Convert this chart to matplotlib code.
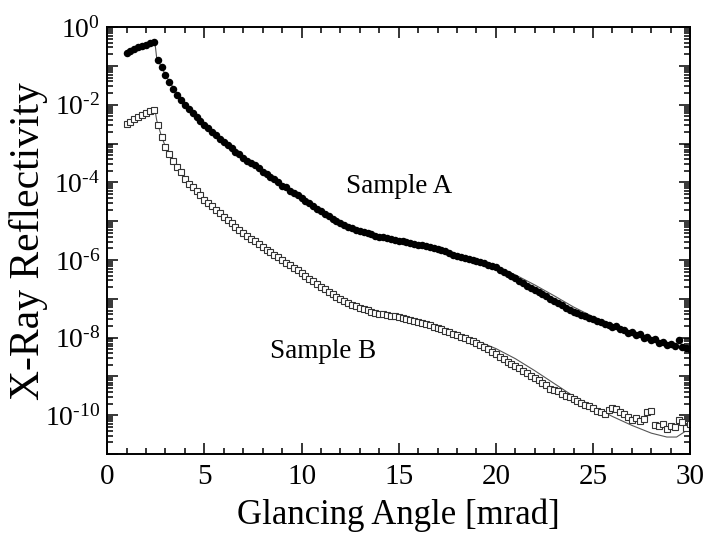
import matplotlib
matplotlib.use("Agg")
import matplotlib.pyplot as plt
import numpy as np
from matplotlib.ticker import LogLocator, MultipleLocator, FuncFormatter, NullFormatter

plt.rcParams['font.family'] = ['Liberation Serif', 'DejaVu Serif']
plt.rcParams['mathtext.fontset'] = 'custom'
plt.rcParams['mathtext.rm'] = 'Liberation Serif'
plt.rcParams['mathtext.it'] = 'Liberation Serif:italic'

# scan grid for both samples [mrad]
angle = np.round(np.arange(1.0, 30.01, 0.2), 1)

# log10 reflectivity
logR_a = [
    -0.67, -0.62, -0.56, -0.51, -0.49, -0.46, -0.41, -0.38, -0.85, -1.03,
    -1.23, -1.41, -1.59, -1.74, -1.87, -2.00, -2.10, -2.21, -2.31, -2.41,
    -2.51, -2.59, -2.69, -2.77, -2.87, -2.95, -3.03, -3.10, -3.21, -3.28,
    -3.36, -3.44, -3.51, -3.56, -3.64, -3.72, -3.79, -3.87, -3.92, -4.00,
    -4.08, -4.13, -4.21, -4.28, -4.33, -4.41, -4.49, -4.54, -4.62, -4.69,
    -4.74, -4.82, -4.87, -4.95, -5.00, -5.05, -5.10, -5.15, -5.18, -5.23,
    -5.26, -5.28, -5.31, -5.33, -5.38, -5.41, -5.41, -5.44, -5.46, -5.49,
    -5.51, -5.51, -5.54, -5.56, -5.59, -5.62, -5.62, -5.64, -5.67, -5.69,
    -5.72, -5.74, -5.77, -5.82, -5.87, -5.90, -5.92, -5.95, -5.97, -6.00,
    -6.03, -6.05, -6.08, -6.13, -6.15, -6.18, -6.26, -6.31, -6.36, -6.41,
    -6.46, -6.54, -6.59, -6.67, -6.72, -6.77, -6.82, -6.87, -6.92, -7.00,
    -7.05, -7.10, -7.15, -7.23, -7.28, -7.33, -7.36, -7.41, -7.44, -7.49,
    -7.51, -7.56, -7.59, -7.64, -7.67, -7.72, -7.69, -7.77, -7.79, -7.87,
    -7.85, -7.92, -7.90, -8.00, -7.97, -8.05, -8.03, -8.13, -8.10, -8.18,
    -8.15, -8.21, -8.05, -8.23, -8.26, -8.28,
]
logR_b = [
    -2.49, -2.44, -2.36, -2.31, -2.26, -2.21, -2.15, -2.13, -2.51, -2.82,
    -3.08, -3.26, -3.44, -3.59, -3.74, -3.90, -4.03, -4.13, -4.23, -4.33,
    -4.44, -4.54, -4.62, -4.72, -4.79, -4.90, -4.97, -5.05, -5.15, -5.23,
    -5.31, -5.38, -5.46, -5.51, -5.59, -5.67, -5.74, -5.79, -5.87, -5.92,
    -6.00, -6.08, -6.13, -6.21, -6.26, -6.33, -6.41, -6.49, -6.54, -6.62,
    -6.69, -6.74, -6.82, -6.87, -6.95, -7.00, -7.05, -7.10, -7.15, -7.18,
    -7.23, -7.26, -7.28, -7.33, -7.36, -7.38, -7.38, -7.41, -7.44, -7.44,
    -7.46, -7.49, -7.51, -7.54, -7.56, -7.59, -7.62, -7.64, -7.67, -7.72,
    -7.74, -7.77, -7.82, -7.85, -7.90, -7.92, -7.97, -8.00, -8.05, -8.08,
    -8.13, -8.18, -8.23, -8.28, -8.36, -8.41, -8.49, -8.54, -8.62, -8.67,
    -8.74, -8.79, -8.87, -8.92, -9.00, -9.05, -9.10, -9.18, -9.23, -9.31,
    -9.36, -9.38, -9.44, -9.49, -9.54, -9.59, -9.64, -9.69, -9.74, -9.77,
    -9.82, -9.90, -9.92, -9.97, -9.87, -9.82, -9.85, -9.92, -9.97, -10.05,
    -10.13, -10.08, -10.15, -10.10, -9.92, -9.90, -10.26, -10.28, -10.23, -10.36,
    -10.28, -10.31, -10.13, -10.18, -10.33, -10.23,
]

# model curves (thin lines)
fit_angle_a = [1.0, 1.5, 2.0, 2.45, 2.55, 2.8, 3.0, 3.5, 4, 5, 6, 7, 8, 9, 10, 11, 12,
               13, 14, 15, 16, 17, 18, 19, 20, 21, 22, 23, 24, 25, 26, 27, 28, 29, 30]
fit_log_a = [-0.67, -0.55, -0.46, -0.36, -0.80, -1.03, -1.23, -1.64, -2.00, -2.51,
             -2.95, -3.36, -3.72, -4.08, -4.41, -4.74, -5.05, -5.26, -5.44, -5.56,
             -5.67, -5.77, -5.87, -6.03, -6.18, -6.38, -6.64, -6.92, -7.21, -7.46,
             -7.67, -7.85, -8.03, -8.18, -8.36]
fit_angle_b = [1.0, 1.5, 2.0, 2.45, 2.55, 2.8, 3.0, 3.5, 4, 5, 6, 7, 8, 9, 10, 11, 12,
               13, 14, 15, 16, 17, 18, 19, 20, 21, 22, 23, 24, 25, 26, 27, 28, 28.8,
               29.3, 30]
fit_log_b = [-2.49, -2.34, -2.21, -2.10, -2.40, -2.82, -3.08, -3.51, -3.90, -4.44,
             -4.90, -5.31, -5.67, -6.00, -6.33, -6.69, -7.00, -7.23, -7.38, -7.46,
             -7.59, -7.74, -7.92, -8.08, -8.28, -8.54, -8.85, -9.18, -9.51, -9.77,
             -10.03, -10.26, -10.46, -10.56, -10.56, -10.33]

fig = plt.figure(figsize=(7.05, 5.33), dpi=100)
ax = fig.add_axes([0.152, 0.148, 0.827, 0.801])

ax.plot(fit_angle_a, 10**np.array(fit_log_a), color='#555555', lw=0.8, zorder=1)
ax.plot(fit_angle_b, 10**np.array(fit_log_b), color='#555555', lw=0.8, zorder=1)
ax.plot(angle, 10**np.array(logR_a), 'o', color='black', ms=5.4, mew=0, zorder=3)
ax.plot(angle, 10**np.array(logR_b), 's', mfc='white', mec='#333333', ms=5.0,
        mew=0.8, zorder=2)

ax.set_yscale('log')
ax.set_xlim(0, 30)
ax.set_ylim(1e-11, 1)

ax.xaxis.set_major_locator(MultipleLocator(5))
ax.xaxis.set_minor_locator(MultipleLocator(1))
ax.yaxis.set_major_locator(LogLocator(base=10, numticks=20))
ax.yaxis.set_minor_locator(LogLocator(base=10, subs=np.arange(2, 10), numticks=20))
ax.yaxis.set_minor_formatter(NullFormatter())


def ylab(v, pos):
    e = int(round(np.log10(v)))
    if e % 2:
        return ''
    if e == 0:
        return r'$\mathregular{10^{0}}$'
    # plain hyphen in the exponent, like the original
    return r'$\mathregular{10^{' + '\u2010' + str(-e) + '}}$'


ax.yaxis.set_major_formatter(FuncFormatter(ylab))

ax.tick_params(which='both', direction='in', top=True, right=True, width=1.1)
ax.tick_params(axis='x', labelsize=21, pad=7)
ax.tick_params(axis='y', labelsize=20, pad=5)
ax.tick_params(which='major', length=8)
ax.tick_params(which='minor', length=4.5)
for s in ax.spines.values():
    s.set_linewidth(1.4)

ax.set_xlabel('Glancing Angle [mrad]', fontsize=25, labelpad=6)
ax.set_ylabel('X-Ray Reflectivity', fontsize=30)
ax.yaxis.set_label_coords(-0.102, 0.5)

ax.text(15, 10**-4.1, 'Sample A', fontsize=19.5, ha='center', va='center')
ax.text(11.1, 10**-8.35, 'Sample B', fontsize=19.5, ha='center', va='center')

fig.savefig('out.png', dpi=100)
